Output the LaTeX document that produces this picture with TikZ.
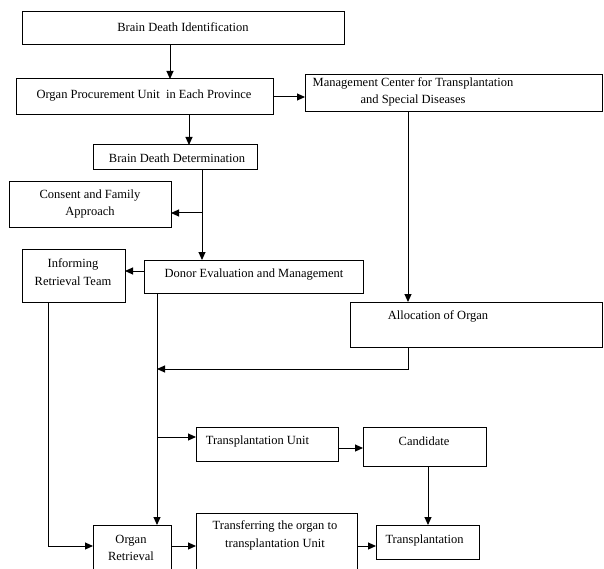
\documentclass[tikz,border=0pt]{standalone}
\usepackage{fontspec}
\setmainfont{Liberation Serif}
\usetikzlibrary{arrows.meta}
\begin{document}
\begin{tikzpicture}[x=1pt,y=-1pt,
  box/.style={draw, line width=1pt, inner sep=0pt, outer sep=0pt},
  txt/.style={inner sep=0pt, align=center, font=\fontsize{12.5}{17.5}\selectfont},
  arr/.style={line width=1pt, -{Triangle[length=8pt,width=7pt]}},
  ln/.style={line width=1pt}]
\useasboundingbox (0,0) rectangle (604,569);
\clip (0,0) rectangle (604,569);
% boxes (corner coordinates)
\newcommand{\mybox}[5]{\node[box, minimum width={#4-#2}, minimum height={#5-#3}] (#1) at ({(#2+#4)/2},{(#3+#5)/2}) {};}
\mybox{bdi}{22}{12}{344}{45}
\mybox{opu}{16}{79}{273}{115}
\mybox{mc}{305}{75}{602}{112}
\mybox{bdd}{93}{145}{257}{170}
\mybox{cfa}{9}{182}{171}{227}
\mybox{irt}{22}{249}{125}{302}
\mybox{dem}{144}{260}{363}{293}
\mybox{aoo}{350}{302}{602}{347}
\mybox{tu}{196}{427}{338}{461}
\mybox{cand}{363}{427}{486}{466}
\mybox{or}{93}{525}{171}{620}
\mybox{tr}{196}{513}{357}{620}
\mybox{tp}{376}{525}{479}{559}
% texts
\node[txt] (bdi-t) at (183,27) {Brain Death Identification};
\node[txt] (opu-t) at (144,96) {Organ Procurement Unit\ \ in Each Province};
\node[txt] (mc-t) at (413,92) {Management Center for Transplantation\\and Special Diseases};
\node[txt] (bdd-t) at (177,158) {Brain Death Determination};
\node[txt] (cfa-t) at (90,204) {Consent and Family\\Approach};
\node[txt] (irt-t) at (73,272) {Informing\\Retrieval Team};
\node[txt] (dem-t) at (254,275) {Donor Evaluation and Management};
\node[txt] (aoo-t) at (438,316) {Allocation of Organ};
\node[txt] (tu-t) at (257.5,441) {Transplantation Unit};
\node[txt] (cand-t) at (424,441) {Candidate};
\node[txt] (or-t) at (131,548) {Organ\\Retrieval};
\node[txt] (tr-t) at (275,535.5) {Transferring the organ to\\transplantation Unit};
\node[txt] (tp-t) at (424.5,540) {Transplantation};
% helper coordinates
\coordinate (x170) at (170,0);
\coordinate (x189) at (189,0);
\coordinate (x202) at (202,0);
\coordinate (x157) at (157,0);
\coordinate (x408) at (408,0);
\coordinate (x48) at (48,0);
\coordinate (x428) at (428,0);
\coordinate (y97) at (0,97);
\coordinate (y213) at (0,213);
\coordinate (y271) at (0,271);
\coordinate (y369) at (0,369);
\coordinate (y437) at (0,437);
\coordinate (y448) at (0,448);
\coordinate (y546) at (0,546);
\coordinate (j1) at (x202 |- y213);
\coordinate (j2) at (x157 |- y369);
\coordinate (j3) at (x157 |- y437);
% connectors
\draw[arr] (bdi.south -| x170) -- (opu.north -| x170);
\draw[arr] (opu.east |- y97) -- (mc.west |- y97);
\draw[arr] (opu.south -| x189) -- (bdd.north -| x189);
\draw[arr] (bdd.south -| x202) -- (dem.north -| x202);
\draw[arr] (j1) -- (cfa.east |- y213);
\draw[arr] (dem.west |- y271) -- (irt.east |- y271);
\draw[arr] (mc.south -| x408) -- (aoo.north -| x408);
\draw[arr] (aoo.south -| x408) |- (j2);
\draw[arr] (dem.south -| x157) -- (or.north -| x157);
\draw[arr] (j3) -- (tu.west |- y437);
\draw[arr] (irt.south -| x48) |- (or.west |- y546);
\draw[arr] (tu.east |- y448) -- (cand.west |- y448);
\draw[arr] (cand.south -| x428) -- (tp.north -| x428);
\draw[arr] (or.east |- y546) -- (tr.west |- y546);
\draw[arr] (tr.east |- y546) -- (tp.west |- y546);
\end{tikzpicture}
\end{document}
